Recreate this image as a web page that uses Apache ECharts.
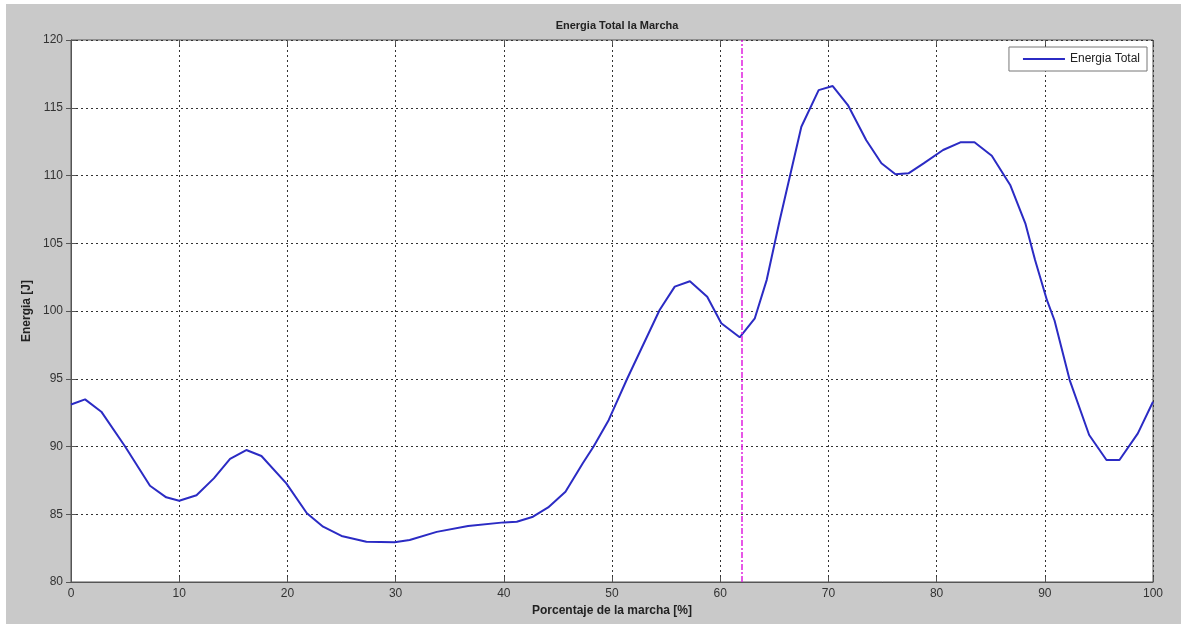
<!DOCTYPE html>
<html>
<head>
<meta charset="utf-8">
<script src="https://cdn.jsdelivr.net/npm/echarts@6/dist/echarts.min.js"></script>
<style>
  html, body { margin: 0; padding: 0; background: #fff; }
  #main { position: absolute; left: 6px; top: 4px; width: 1175px; height: 620px; }
</style>
</head>
<body>
<div id="main"></div>
<script>
// Porcentaje de la marcha [%]
var pct = [0, 1.3, 2.8, 5.0, 7.3, 8.8, 10.0, 11.6, 13.2, 14.7, 16.2, 17.6, 19.9, 21.8, 23.3, 25.0,
  27.3, 29.9, 31.3, 33.8, 36.7, 40.0, 41.2, 42.7, 44.1, 45.7, 47.3, 48.3, 49.7, 51.4, 54.4, 55.8,
  57.2, 58.8, 60.1, 61.8, 63.2, 64.3, 65.5, 67.5, 69.1, 70.4, 71.8, 73.5, 74.9, 76.2, 77.4, 78.8,
  80.6, 82.2, 83.5, 85.1, 86.8, 88.2, 89.1, 90.2, 90.9, 92.3, 94.1, 95.7, 96.9, 98.6, 100];
// Energia total [J]
var energia = [93.1, 93.48, 92.57, 90.0, 87.1, 86.25, 86.0, 86.4, 87.65, 89.08, 89.74, 89.3, 87.28, 85.07, 84.08, 83.4,
  82.97, 82.94, 83.1, 83.7, 84.13, 84.4, 84.45, 84.82, 85.5, 86.66, 88.76, 90.0, 91.96, 95.0, 100.07, 101.8,
  102.2, 101.05, 99.1, 98.06, 99.46, 102.3, 106.7, 113.6, 116.3, 116.6, 115.2, 112.6, 110.9, 110.09, 110.16, 110.9,
  111.88, 112.45, 112.45, 111.46, 109.3, 106.47, 103.76, 100.8, 99.3, 94.9, 90.85, 89.0, 89.0, 90.97, 93.3];
var marcaX = 62;

var pts = pct.map(function (x, i) { return [x, energia[i]]; });
var font = 'Liberation Sans, Arial, sans-serif';

var option = {
  backgroundColor: '#c9c9c9',
  animation: false,
  title: {
    text: 'Energia Total la Marcha',
    left: 606, top: 11, textAlign: 'center',
    textStyle: { fontSize: 11, fontWeight: 'bold', color: '#222', fontFamily: font }
  },
  legend: {
    data: ['Energia Total'],
    right: 34, top: 43,
    backgroundColor: '#fff', borderColor: '#777', borderWidth: 1,
    padding: [6, 7, 6, 14],
    itemWidth: 42, itemHeight: 2, itemGap: 8,
    icon: 'rect',
    textStyle: { fontSize: 12, color: '#222', fontFamily: font }
  },
  grid: {
    left: 65, right: 28, top: 36, bottom: 42,
    show: true, backgroundColor: '#fff', borderColor: '#555', borderWidth: 1
  },
  xAxis: [{
    type: 'value', min: 0, max: 100, interval: 10,
    name: 'Porcentaje de la marcha [%]', nameLocation: 'middle', nameGap: 23,
    nameTextStyle: { fontSize: 12, fontWeight: 'bold', color: '#222', fontFamily: font },
    axisLine: { lineStyle: { color: '#555' } },
    axisTick: { inside: true, length: 5, lineStyle: { color: '#555' } },
    axisLabel: { fontSize: 12, color: '#333', margin: 6, fontFamily: font },
    splitLine: { show: true, lineStyle: { color: '#333', type: [2, 3] } }
  }, {
    type: 'value', min: 0, max: 100, interval: 10, position: 'top',
    axisLine: { show: false },
    axisTick: { inside: true, length: 5, lineStyle: { color: '#555' } },
    axisLabel: { show: false }, splitLine: { show: false }
  }],
  yAxis: [{
    type: 'value', min: 80, max: 120, interval: 5,
    name: 'Energia [J]', nameLocation: 'middle', nameGap: 38, nameMoveOverlap: false,
    nameTextStyle: { fontSize: 12, fontWeight: 'bold', color: '#222', fontFamily: font },
    axisLine: { lineStyle: { color: '#555' } },
    axisTick: { inside: true, length: 5, lineStyle: { color: '#555' } },
    axisLabel: { fontSize: 12, color: '#333', margin: 8, fontFamily: font },
    splitLine: { show: true, lineStyle: { color: '#333', type: [2, 3] } }
  }, {
    type: 'value', min: 80, max: 120, interval: 5, position: 'right',
    axisLine: { show: false },
    axisTick: { inside: true, length: 5, lineStyle: { color: '#555' } },
    axisLabel: { show: false }, splitLine: { show: false }
  }],
  series: [{
    name: 'Energia Total',
    type: 'line',
    data: pts,
    symbol: 'none',
    color: '#2b2bc4',
    lineStyle: { width: 2, color: '#2b2bc4' },
    markLine: {
      silent: true, symbol: 'none', label: { show: false },
      lineStyle: { color: '#e020e0', width: 1.5, type: [6, 2, 2, 2] },
      data: [{ xAxis: marcaX }]
    }
  }]
};

var myChart = echarts.init(document.getElementById('main'));
myChart.setOption(option);
</script>
</body>
</html>
